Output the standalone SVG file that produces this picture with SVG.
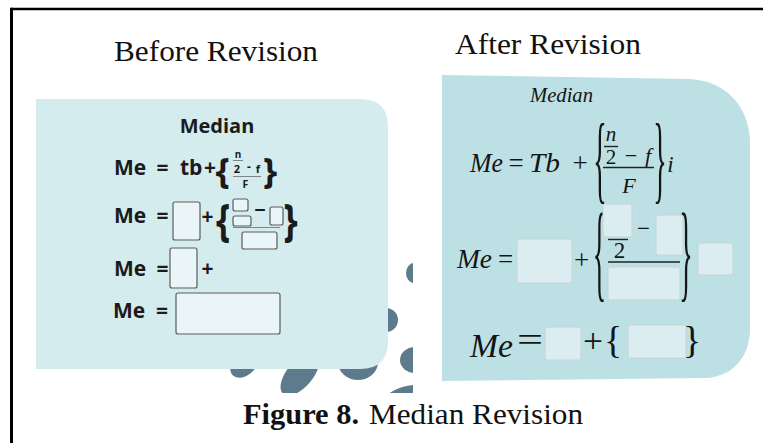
<svg xmlns="http://www.w3.org/2000/svg" width="763" height="443" viewBox="0 0 763 443">
<defs>
<style>
.title{font-family:"Liberation Serif","Times New Roman",serif;font-size:29px;fill:#111}
.cap{font-family:"Liberation Serif","Times New Roman",serif;font-size:29px;fill:#111}
.sans{font-family:"Open Sans","Liberation Sans",sans-serif;fill:#1b1b1b;font-weight:700}
.ser{font-family:"Liberation Serif","Times New Roman",serif;fill:#151515}
.it{font-style:italic}
.bl{fill:#e9f5f6;stroke:#5c5c5c;stroke-width:1.2}
.br{fill:#dcedf1;stroke:#c3d4d8;stroke-width:1}
.blob{fill:#5d7b8d}
.bar{stroke:#222;stroke-width:1.4}
.barl{stroke:#777;stroke-width:0.9}
</style>
<clipPath id="imgclip"><rect x="36" y="60" width="377" height="333"/></clipPath>
</defs>

<g id="frame" fill="none" stroke="#000">
<line x1="11" y1="9" x2="763" y2="9" stroke-width="2.5"/>
<line x1="11.5" y1="7.8" x2="11.5" y2="443" stroke-width="3"/>
</g>

<g id="titles">
<text class="title" x="114" y="61" textLength="204" lengthAdjust="spacingAndGlyphs">Before Revision</text>
<text class="title" x="455" y="54" textLength="186" lengthAdjust="spacingAndGlyphs">After Revision</text>
</g>

<g id="before-panel">
<g clip-path="url(#imgclip)">
<ellipse class="blob" cx="414" cy="273" rx="8" ry="10"/>
<ellipse class="blob" cx="386" cy="320" rx="12" ry="12"/>
<ellipse class="blob" cx="415" cy="360" rx="15" ry="13"/>
<ellipse class="blob" cx="245" cy="362" rx="12" ry="18" transform="rotate(40 245 362)"/>
<ellipse class="blob" cx="300" cy="374" rx="13" ry="26" transform="rotate(40 300 374)"/>
<ellipse class="blob" cx="358" cy="362" rx="20" ry="18"/>
<ellipse class="blob" cx="405" cy="401" rx="28" ry="14" transform="rotate(-20 405 401)"/>
</g>
<path d="M36,99 L360,99 Q388,99 388,127 L388,341 Q388,369 360,369 L36,369 Z" fill="#d4ecee"/>
<text class="sans" x="217" y="133" font-size="20" font-weight="600" text-anchor="middle">Median</text>

<g id="before-row1">
<text class="sans" x="114" y="175" font-size="21">Me</text>
<text class="sans" x="162.5" y="175" font-size="21" text-anchor="middle">=</text>
<text class="sans" x="180" y="175" font-size="21">tb</text>
<text class="sans" x="210" y="175" font-size="21" text-anchor="middle">+</text>
<text class="sans" font-size="36" font-weight="800" text-anchor="middle" transform="translate(222.5 184.4)">{</text>
<text class="sans" x="238" y="158" font-size="10" font-weight="600" text-anchor="middle">n</text>
<line class="barl" x1="233" y1="160.5" x2="243" y2="160.5"/>
<text class="sans" x="237" y="173" font-size="11" font-weight="600" text-anchor="middle">2</text>
<text class="sans" x="249" y="171" font-size="12" text-anchor="middle">-</text>
<text class="sans" x="258" y="173" font-size="11" font-weight="600" text-anchor="middle">f</text>
<line class="barl" x1="233" y1="176.5" x2="261" y2="176.5"/>
<text class="sans" x="245.5" y="187.5" font-size="10.5" font-weight="600" text-anchor="middle">F</text>
<text class="sans" font-size="36" font-weight="800" text-anchor="middle" transform="translate(270 184.4)">}</text>
</g>

<g id="before-row2">
<text class="sans" x="114" y="223" font-size="21">Me</text>
<text class="sans" x="162.5" y="223" font-size="21" text-anchor="middle">=</text>
<rect class="bl" x="173" y="202" width="27" height="38" rx="2"/>
<text class="sans" x="207.5" y="224" font-size="21" text-anchor="middle">+</text>
<text class="sans" font-size="36" font-weight="800" text-anchor="middle" transform="translate(223 236.4) scale(1 1.22)">{</text>
<rect class="bl" x="233" y="199" width="15" height="12" rx="2"/>
<rect class="bl" x="233" y="216" width="18" height="10" rx="2"/>
<text class="sans" x="260" y="217" font-size="20" font-weight="800" text-anchor="middle">−</text>
<rect class="bl" x="270" y="207" width="13" height="18" rx="2"/>
<line class="barl" x1="233" y1="227.5" x2="280" y2="227.5"/>
<rect class="bl" x="242" y="232" width="35" height="17" rx="2"/>
<text class="sans" font-size="36" font-weight="800" text-anchor="middle" transform="translate(290.5 236.4) scale(1 1.22)">}</text>
</g>

<g id="before-row3">
<text class="sans" x="114" y="276" font-size="21">Me</text>
<text class="sans" x="162.5" y="276" font-size="21" text-anchor="middle">=</text>
<rect class="bl" x="170" y="248" width="27" height="40" rx="2"/>
<text class="sans" x="207.5" y="276" font-size="21" text-anchor="middle">+</text>
</g>

<g id="before-row4">
<text class="sans" x="113" y="318" font-size="21">Me</text>
<text class="sans" x="162" y="318" font-size="21" text-anchor="middle">=</text>
<rect class="bl" x="176" y="293" width="104" height="41" rx="2"/>
</g>
</g>

<g id="after-panel">
<path d="M442,75 L690,79 C725,81 748,105 750,140 L750,328 C750,360 730,377 705,378 L442,381 Z" fill="#bde0e4"/>
<text class="ser it" x="530" y="102" font-size="21" textLength="63" lengthAdjust="spacingAndGlyphs">Median</text>

<g id="after-row1">
<text class="ser it" x="470" y="172" font-size="27" textLength="33" lengthAdjust="spacingAndGlyphs">Me</text>
<text class="ser" x="516" y="172" font-size="27" text-anchor="middle">=</text>
<text class="ser it" x="529" y="172" font-size="27" textLength="31" lengthAdjust="spacingAndGlyphs">Tb</text>
<text class="ser" x="580" y="172" font-size="27" text-anchor="middle">+</text>
<text class="ser" font-size="28" text-anchor="middle" transform="translate(600 190.7) scale(1 3.45)">{</text>
<text class="ser it" x="611" y="141" font-size="21" text-anchor="middle">n</text>
<line class="bar" x1="604" y1="146.5" x2="618" y2="146.5"/>
<text class="ser" x="611" y="164" font-size="21" text-anchor="middle">2</text>
<text class="ser" x="631" y="163" font-size="22" text-anchor="middle">−</text>
<text class="ser it" x="648" y="163" font-size="22" text-anchor="middle">f</text>
<line class="bar" x1="603" y1="167.5" x2="654" y2="167.5"/>
<text class="ser it" x="629" y="193" font-size="22" text-anchor="middle">F</text>
<text class="ser" font-size="28" text-anchor="middle" transform="translate(660 190.7) scale(1 3.45)">}</text>
<text class="ser it" x="670.5" y="172" font-size="23" text-anchor="middle">i</text>
</g>

<g id="after-row2">
<text class="ser it" x="457" y="268" font-size="27" textLength="35" lengthAdjust="spacingAndGlyphs">Me</text>
<text class="ser" x="505.5" y="268" font-size="27" text-anchor="middle">=</text>
<rect class="br" x="517" y="239" width="55" height="44" rx="2"/>
<text class="ser" x="581.5" y="269" font-size="27" text-anchor="middle">+</text>
<text class="ser" font-size="28" text-anchor="middle" transform="translate(599.5 287.7) scale(1 3.82)">{</text>
<line class="bar" x1="608" y1="239.5" x2="628" y2="239.5"/>
<text class="ser" x="619.5" y="258" font-size="23" text-anchor="middle">2</text>
<rect class="br" x="603" y="204" width="29" height="33" rx="2"/>
<text class="ser" x="643.5" y="236" font-size="23" text-anchor="middle">−</text>
<text class="ser" font-size="28" text-anchor="middle" transform="translate(686 287.7) scale(1 3.82)">}</text>
<rect class="br" x="656" y="215" width="27" height="40" rx="2"/>
<line class="bar" x1="608" y1="262" x2="680" y2="262"/>
<rect class="br" x="608" y="267" width="72" height="33" rx="2"/>
<rect class="br" x="698" y="243" width="35" height="32" rx="2"/>
</g>

<g id="after-row3">
<text class="ser it" x="470" y="357" font-size="33" textLength="43" lengthAdjust="spacingAndGlyphs">Me</text>
<text class="ser" x="517" y="351" font-size="33" textLength="26" lengthAdjust="spacingAndGlyphs">=</text>
<rect class="br" x="545" y="327" width="36" height="33" rx="2"/>
<text class="ser" x="583" y="352" font-size="33" textLength="20" lengthAdjust="spacingAndGlyphs">+</text>
<text class="ser" x="613" y="352.8" font-size="38" text-anchor="middle">{</text>
<rect class="br" x="628" y="325" width="58" height="33" rx="2"/>
<text class="ser" x="692" y="352.8" font-size="38" text-anchor="middle">}</text>
</g>
</g>

<g id="caption">
<text class="cap" x="243" y="424" font-weight="bold" textLength="116" lengthAdjust="spacingAndGlyphs">Figure 8.</text>
<text class="cap" x="369" y="424" textLength="214" lengthAdjust="spacingAndGlyphs">Median Revision</text>
</g>
</svg>
